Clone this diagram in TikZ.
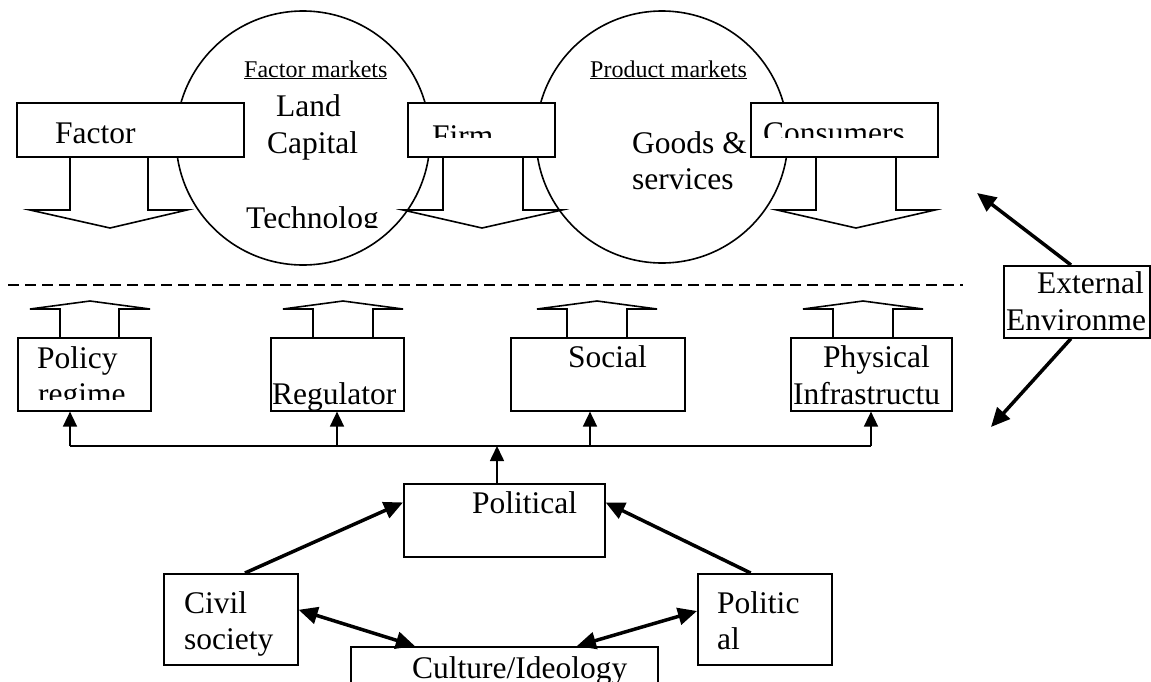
\documentclass[tikz,border=0pt]{standalone}
\usepackage{fontspec}
\setmainfont{Liberation Serif}
\usetikzlibrary{arrows.meta}

\begin{document}
\begin{tikzpicture}[x=1pt, y=-1pt,
    box/.style={draw, fill=white, rectangle, line width=1.6pt, anchor=north west, inner sep=0pt},
    market/.style={draw, fill=white, circle, line width=1.6pt, inner sep=0pt},
    txt/.style={anchor=base west, inner sep=0pt, font=\fontsize{31.5}{36.5}\selectfont},
    small/.style={anchor=base west, inner sep=0pt, font=\fontsize{24}{28}\selectfont},
    block/.style={draw, fill=white, line width=1.6pt, line join=miter},
    link/.style={line width=1.6pt},
    linkarrow/.style={line width=1.6pt, -{Triangle[length=15pt, width=14pt]}},
    heavy/.style={line width=3.5pt, -{Triangle[length=19pt, width=17pt]}},
    heavyboth/.style={line width=3.5pt, {Triangle[length=19pt, width=17pt]}-{Triangle[length=19pt, width=17pt]}},
    divider/.style={line width=2pt, dash pattern=on 11pt off 6pt}
]
    \useasboundingbox (0,0) rectangle (1151,681);
    \clip (0,0) rectangle (1151,681);

    % markets
    \node[market, minimum size=254pt] (factormkt) at (303,138) {};
    \node[market, minimum size=252pt] (productmkt) at (662,137) {};

    % block arrows down
    \draw[block] (70,156) -- (70,210) -- (30,210) -- (110,228) -- (187,210) -- (148,210) -- (148,156);
    \draw[block] (443,156) -- (443,210) -- (403,210) -- (482,228) -- (562,210) -- (523,210) -- (523,156);
    \draw[block] (816,156) -- (816,210) -- (777,210) -- (856,228) -- (935,210) -- (896,210) -- (896,156);

    % block arrows up
    \draw[block] (60,337) -- (60,309) -- (30,309) -- (90,301) -- (150,309) -- (119,309) -- (119,337);
    \draw[block] (313,337) -- (313,309) -- (283,309) -- (343,301) -- (403,309) -- (373,309) -- (373,337);
    \draw[block] (567,337) -- (567,309) -- (537,309) -- (597,301) -- (657,309) -- (627,309) -- (627,337);
    \draw[block] (833,337) -- (833,309) -- (803,309) -- (863,301) -- (923,309) -- (893,309) -- (893,337);

    % boxes
    \node[box, minimum width=227pt, minimum height=54pt] (factor) at (16,102) {};
    \node[box, minimum width=147pt, minimum height=54pt] (firm) at (407,102) {};
    \node[box, minimum width=187pt, minimum height=54pt] (consumers) at (750,102) {};
    \node[box, minimum width=133pt, minimum height=73pt] (policy) at (17,337) {};
    \node[box, minimum width=133pt, minimum height=73pt] (regulator) at (270,337) {};
    \node[box, minimum width=174pt, minimum height=73pt] (social) at (510,337) {};
    \node[box, minimum width=161pt, minimum height=73pt] (physical) at (790,337) {};
    \node[box, minimum width=146pt, minimum height=72pt] (external) at (1003,265) {};
    \node[box, minimum width=201pt, minimum height=73pt] (political) at (403,483) {};
    \node[box, minimum width=134pt, minimum height=91pt] (civil) at (163,573) {};
    \node[box, minimum width=134pt, minimum height=91pt] (party) at (697,573) {};
    \node[box, minimum width=307pt, minimum height=60pt] (culture) at (350,646) {};

    % texts
    \node[txt] (factorT) at (55,143) {Factor};
    \begin{scope}
        \clip (407,102) rectangle (554,137);
        \node[txt] (firmT) at (432,146) {Firm};
    \end{scope}
    \begin{scope}
        \clip (750,102) rectangle (937,137);
        \node[txt] (consumersT) at (763,143) {Consumers};
    \end{scope}
    \node[small] (factormktT) at (244,77) {\underline{Factor markets}};
    \node[txt] (landT) at (276,116) {Land};
    \node[txt] (capitalT) at (267,153) {Capital};
    \begin{scope}
        \clip (180,190) rectangle (400,227);
        \node[txt] (technologT) at (246,228) {Technolog};
    \end{scope}
    \node[small] (productmktT) at (590,77) {\underline{Product markets}};
    \node[txt] (goodsT) at (632,153) {Goods \&};
    \node[txt] (servicesT) at (632,189.5) {services};
    \node[txt] (policyT) at (37,368) {Policy};
    \begin{scope}
        \clip (18,380) rectangle (149,399);
        \node[txt] (regimeT) at (38,404.5) {regime};
    \end{scope}
    \node[txt] (regulatorT) at (272,404) {Regulator};
    \node[txt] (socialT) at (568,367) {Social};
    \node[txt] (physicalT) at (823,367) {Physical};
    \node[txt] (infraT) at (793,404) {Infrastructu};
    \node[txt] (externalT) at (1037,293) {External};
    \node[txt] (environT) at (1006,330) {Environme};
    \node[txt] (politicalT) at (472,513) {Political};
    \node[txt] (civilT) at (184,613) {Civil};
    \node[txt] (societyT) at (184,649) {society};
    \node[txt] (partyT) at (717,613) {Politic};
    \node[txt] (partyT2) at (717,649) {al};
    \node[txt] (cultureT) at (412,678) {Culture/Ideology};

    % divider
    \coordinate (divL) at (8,285);
    \coordinate (divR) at (963,285);
    \draw[divider] (divL) -- (divR);

    % bus to the institutions
    \coordinate (busA) at (70,446);
    \coordinate (busB) at (337,446);
    \coordinate (busC) at (590,446);
    \coordinate (busD) at (871,446);
    \coordinate (busP) at (497,446);
    \draw[link] (busA) -- (busD);
    \draw[linkarrow] (busA) -- (busA |- policy.south);
    \draw[linkarrow] (busB) -- (busB |- regulator.south);
    \draw[linkarrow] (busC) -- (busC |- social.south);
    \draw[linkarrow] (busD) -- (busD |- physical.south);
    \draw[linkarrow] (political.north -| busP) -- (busP);

    % political system
    \draw[heavy] (civil.73) -- (political.170);
    \draw[heavy] (party.107) -- (political.10);
    \draw[heavyboth] (civil.8) -- (culture.161);
    \draw[heavyboth] (party.173) -- (culture.23);

    % external environment
    \coordinate (extUp) at (977,193);
    \coordinate (extDown) at (991,427);
    \draw[heavy] (external.99) -- (extUp);
    \draw[heavy] (external.261) -- (extDown);
\end{tikzpicture}
\end{document}
